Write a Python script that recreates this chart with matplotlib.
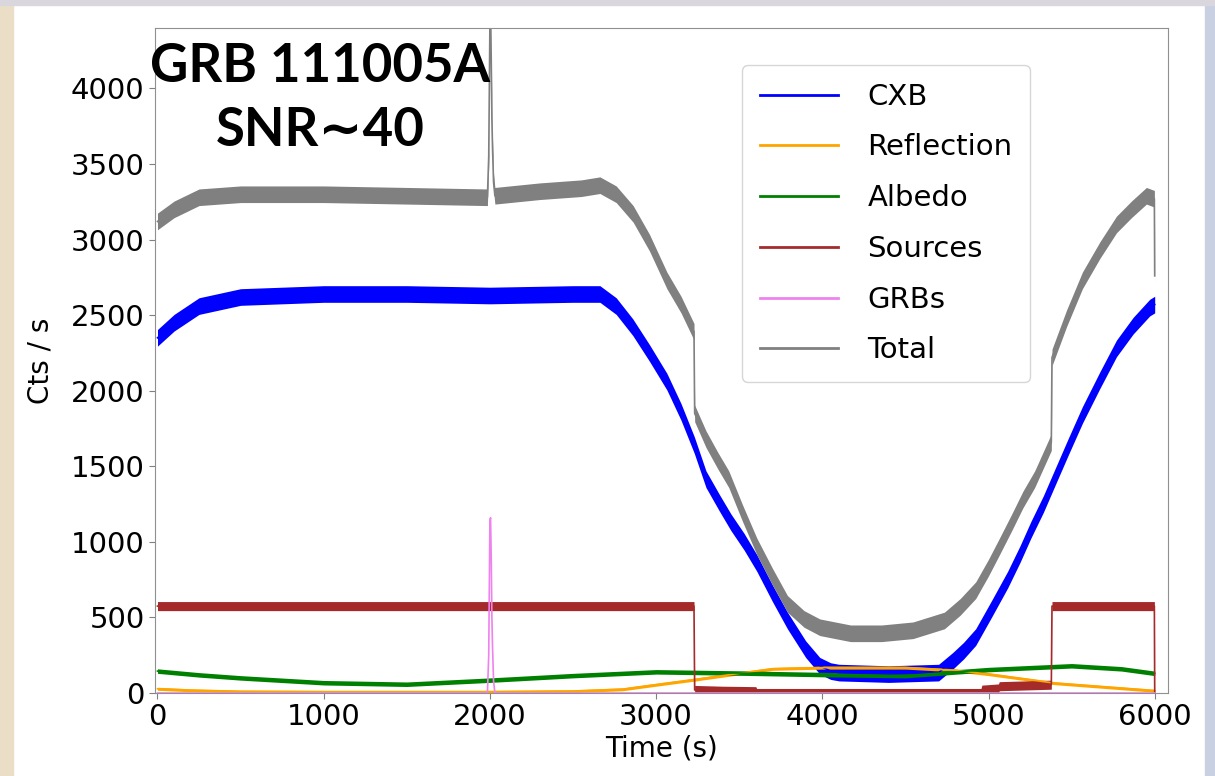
import numpy as np
import matplotlib
matplotlib.use("Agg")
import matplotlib.pyplot as plt
from matplotlib.patches import Rectangle

# anchor points (time in s, rate in cts/s)
cxb_t = [0, 100, 250, 500, 1000, 1500, 2000, 2500, 2662, 2760, 2860, 2960, 3065, 3150, 3230,
         3300, 3380, 3450, 3530, 3606, 3700, 3790, 3900, 3985, 4050, 4100, 4400, 4700, 4785,
         4850, 4923, 5020, 5115, 5190, 5255, 5330, 5395, 5480, 5565, 5670, 5770, 5870, 5970, 6000]
cxb_y = [2350, 2450, 2560, 2620, 2640, 2640, 2630, 2640, 2640, 2560, 2420, 2250, 2060, 1860, 1640,
         1415, 1260, 1130, 1000, 860, 660, 480, 290, 180, 145, 135, 125, 135, 213,
         280, 370, 560, 750, 920, 1080, 1250, 1415, 1630, 1840, 2070, 2280, 2430, 2550, 2570]

refl_t = [0, 200, 500, 1000, 2000, 2500, 2800, 3000, 3240, 3500, 3700, 4000, 4500, 4800, 5000,
          5200, 5400, 5700, 6000]
refl_y = [28, 18, 10, 8, 8, 12, 25, 55, 90, 130, 160, 168, 168, 150, 125,
          95, 65, 40, 15]

albedo_t = [0, 250, 500, 1000, 1500, 2000, 2500, 3000, 3500, 4000, 4500, 5000, 5500, 5800, 6000]
albedo_y = [145, 120, 100, 68, 58, 85, 115, 140, 132, 122, 115, 155, 180, 160, 130]

src_t = [0, 3228, 3232, 3400, 3600, 3605, 4955, 4960, 5060, 5065, 5378, 5382, 5998, 6000]
src_y = [575, 575, 20, 15, 12, 0, 0, 22, 30, 45, 55, 575, 575, 0]

grb_t = [0, 1985, 1993, 2000, 2004, 2008, 2012, 2016, 2022, 2030, 6000]
grb_y = [0, 0, 250, 1140, 1160, 900, 500, 300, 80, 0, 0]

total_t = [0, 100, 250, 500, 1000, 1500, 1985, 1993, 2000, 2004, 2008, 2012, 2016, 2022, 2030,
           2300, 2550, 2662, 2760, 2862, 2960, 3065, 3150, 3228, 3232, 3300, 3370, 3437, 3520,
           3606, 3700, 3790, 3890, 3985, 4170, 4357, 4546, 4735, 4830, 4923, 5000, 5066, 5140,
           5207, 5278, 5378, 5382, 5470, 5565, 5670, 5770, 5860, 5950, 5998, 6000]
total_y = [3120, 3200, 3280, 3300, 3300, 3290, 3280, 3550, 4420, 4460, 4200, 3800, 3600, 3380, 3290,
           3320, 3340, 3360, 3300, 3170, 2980, 2730, 2570, 2390, 1850, 1680, 1540, 1415, 1190,
           970, 770, 590, 490, 435, 395, 395, 415, 480, 570, 680, 830, 970, 1130,
           1280, 1415, 1660, 2220, 2480, 2730, 2930, 3100, 3200, 3290, 3270, 2760]

# rough half-width of the noise band around each curve
cxb_noise = 55
refl_noise = 10
albedo_noise = 15
src_noise = 30
grb_noise = 0
total_noise = 55

series = [
    ("CXB", cxb_t, cxb_y, cxb_noise, "blue"),
    ("Reflection", refl_t, refl_y, refl_noise, "orange"),
    ("Albedo", albedo_t, albedo_y, albedo_noise, "green"),
    ("Sources", src_t, src_y, src_noise, "brown"),
    ("GRBs", grb_t, grb_y, grb_noise, "violet"),
    ("Total", total_t, total_y, total_noise, "grey"),
]

plt.rcParams["font.family"] = ["DejaVu Sans"]
fig = plt.figure(figsize=(12.15, 7.76), dpi=100)

# slide background peeking round the edges
fig.patches.append(Rectangle((0, 0), 13 / 1215, 1, transform=fig.transFigure,
                             color="#eadfc6", zorder=-10))
fig.patches.append(Rectangle((1205 / 1215, 0), 10 / 1215, 1, transform=fig.transFigure,
                             color="#c9d0e2", zorder=-10))
fig.patches.append(Rectangle((0, 1 - 5 / 776), 1, 5 / 776, transform=fig.transFigure,
                             color="#d9d7dd", zorder=-10))

ax = fig.add_axes([155 / 1215, 1 - 693 / 776, 1013 / 1215, 665 / 776])

for name, t, y, noise, col in series:
    t = np.array(t, dtype=float)
    y = np.array(y, dtype=float)
    if noise > 0:
        ax.fill_between(t, y - noise, y + noise, color=col, lw=0)
    ax.plot(t, y, color=col, lw=1.2, label=name)

ax.set_xlim(-15, 6080)
ax.set_ylim(0, 4400)
ax.set_xticks(range(0, 6001, 1000))
ax.set_yticks(range(0, 4001, 500))
ax.tick_params(labelsize=21, color="#808080", length=4)
for sp in ax.spines.values():
    sp.set_color("#909090")

ax.set_xlabel("Time (s)", fontsize=20, labelpad=2)
ax.set_ylabel("Cts / s", fontsize=20, labelpad=12)

leg = ax.legend(loc="upper right", bbox_to_anchor=(0.864, 0.944), borderaxespad=0,
                fontsize=21, handlelength=2.7, handletextpad=1.0,
                labelspacing=0.78, borderpad=0.6)
for h in leg.get_lines():
    h.set_linewidth(2)

fig.text(320 / 1215, 1 - 66 / 776, "GRB 111005A", fontsize=38, fontweight="bold",
         family=["Lato", "DejaVu Sans"], ha="center", va="center")
fig.text(320 / 1215, 1 - 131 / 776, "SNR\u223c40", fontsize=38, fontweight="bold",
         family=["Lato", "DejaVu Sans"], ha="center", va="center")

fig.savefig("out.png", dpi=100)
